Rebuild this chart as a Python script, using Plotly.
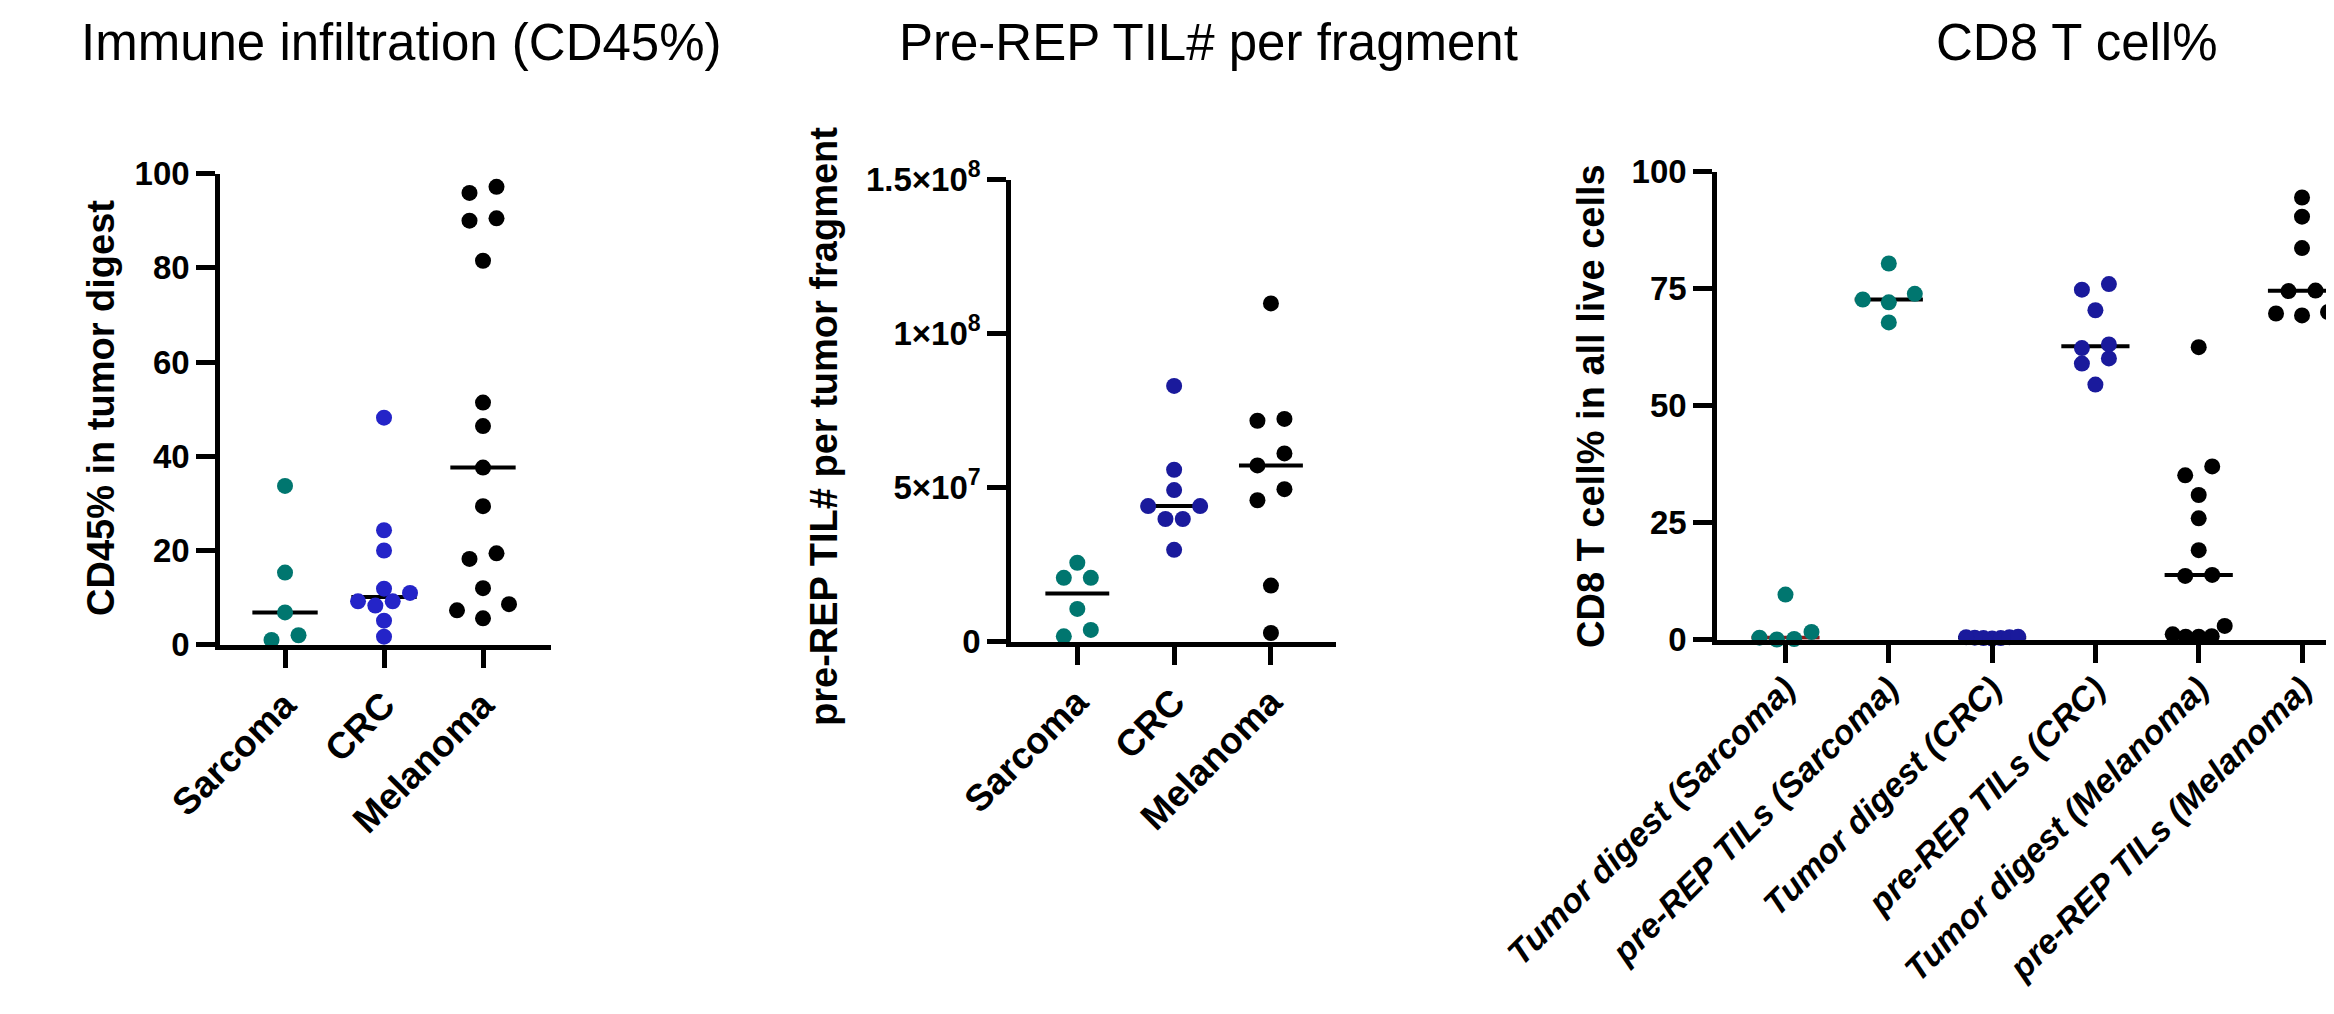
import numpy as np
import plotly.graph_objects as go

W, H = 2334, 1014
FONT = "Liberation Sans, Arial, sans-serif"

# ---------------- data ----------------
p1_categories = ["Sarcoma", "CRC", "Melanoma"]
p1_sarcoma = [33.7, 15.3, 6.85, 2.0, 1.0]
p1_crc = [48.2, 24.3, 20.0, 11.9, 11.0, 9.2, 9.2, 8.3, 5.1, 1.7]
p1_melanoma = [97.2, 95.9, 90.5, 90.0, 81.5, 51.4, 46.4, 37.6, 29.4, 19.4, 18.2, 12.0, 8.6, 7.3, 5.6]
p1_tickvals = [0, 20, 40, 60, 80, 100]

p2_categories = ["Sarcoma", "CRC", "Melanoma"]
p2_sarcoma = [2.56e7, 2.07e7, 2.07e7, 1.06e7, 0.38e7, 0.17e7]
p2_crc = [8.30e7, 5.58e7, 4.92e7, 4.40e7, 4.40e7, 3.98e7, 3.98e7, 2.98e7]
p2_melanoma = [10.98e7, 7.23e7, 7.17e7, 6.11e7, 5.72e7, 4.95e7, 4.59e7, 1.82e7, 0.28e7]
p2_tickvals = [0, 5e7, 1e8, 1.5e8]
p2_ticktext = ["0", "5×10<sup>7</sup>", "1×10<sup>8</sup>", "1.5×10<sup>8</sup>"]

p3_categories = ["Tumor digest (Sarcoma)", "pre-REP TILs (Sarcoma)", "Tumor digest (CRC)",
                 "pre-REP TILs (CRC)", "Tumor digest (Melanoma)", "pre-REP TILs (Melanoma)"]
p3_td_sarcoma = [9.6, 1.6, 0.4, 0.1, 0.0]
p3_pre_sarcoma = [80.4, 73.9, 72.7, 72.1, 67.8]
p3_td_crc = [0.6, 0.5, 0.5, 0.4, 0.3, 0.3, 0.2]
p3_pre_crc = [76.0, 74.8, 70.4, 63.1, 62.3, 60.1, 59.0, 54.5]
p3_td_mel = [62.5, 37.0, 35.1, 30.9, 25.9, 19.1, 13.8, 13.6, 2.9, 1.1, 0.7, 0.6, 0.6]
p3_pre_mel = [94.5, 90.4, 83.7, 74.6, 74.5, 70.0, 69.7, 69.3]
p3_tickvals = [0, 25, 50, 75, 100]

titles = ["Immune infiltration (CD45%)", "Pre-REP TIL# per fragment", "CD8 T cell%"]
ytitles = ["CD45% in tumor digest", "pre-REP TIL# per tumor fragment", "CD8 T cell% in all live cells"]

TEAL = "#00766F"
BLUE1 = "#2424C8"
BLUE2 = "#1A1A9C"
BLACK = "#000000"
DARKRED = "#8B1A1A"

# ---------------- layout geometry (pixels) ----------------
panels = [
    dict(x0=212, x1=543, ytop=165.6, ybot=636.7, xr=(-0.657, 2.687), yr=(0, 100)),
    dict(x0=1003, x1=1328, ytop=171.6, ybot=633.6, xr=(-0.685, 2.672), yr=(0, 1.5e8)),
    dict(x0=1709, x1=2334, ytop=163.8, ybot=631.5, xr=(-0.663, 5.387), yr=(0, 100)),
]

# (values, marker colour, median-line colour)
groups = [
    [(p1_sarcoma, TEAL, BLACK), (p1_crc, BLUE1, BLACK), (p1_melanoma, BLACK, BLACK)],
    [(p2_sarcoma, TEAL, BLACK), (p2_crc, BLUE2, BLACK), (p2_melanoma, BLACK, BLACK)],
    [(p3_td_sarcoma, TEAL, DARKRED), (p3_pre_sarcoma, TEAL, BLACK), (p3_td_crc, BLUE2, BLACK),
     (p3_pre_crc, BLUE2, BLACK), (p3_td_mel, BLACK, BLACK), (p3_pre_mel, BLACK, BLACK)],
]

MARKER = 16


def swarm(values, xpu, ypu, D=15.0, s_max=27.0, w_max=52.0):
    """GraphPad-like scatter-dot layout: points with close values share a row."""
    vals = np.sort(np.asarray(values, float))
    ypx = vals * ypu
    n = len(vals)
    off = np.zeros(n)
    i = 0
    while i < n:
        j = i
        while j + 1 < n and ypx[j + 1] - ypx[i] < D:
            j += 1
        m = j - i + 1
        if m > 1:
            s = min(s_max, w_max / (m - 1))
            slots = (np.arange(m) - (m - 1) / 2.0) * s
            order = np.argsort(np.abs(slots) + 1e-6 * slots)
            for k, si in enumerate(order):
                off[i + k] = slots[si]
        i = j + 1
    return vals, off / xpu


fig = go.Figure()

for pi, (pan, grp) in enumerate(zip(panels, groups)):
    xa = "x" if pi == 0 else f"x{pi+1}"
    ya = "y" if pi == 0 else f"y{pi+1}"
    xpu = (pan["x1"] - pan["x0"]) / (pan["xr"][1] - pan["xr"][0])
    ypu = (pan["ybot"] - pan["ytop"]) / (pan["yr"][1] - pan["yr"][0])
    for ci, (vals, col, mcol) in enumerate(grp):
        med = float(np.median(vals))
        fig.add_trace(go.Scatter(
            x=[ci - 0.33, ci + 0.33], y=[med, med], mode="lines",
            line=dict(color=mcol, width=4), xaxis=xa, yaxis=ya,
            showlegend=False, hoverinfo="skip", cliponaxis=False))
        v, o = swarm(vals, xpu, ypu)
        fig.add_trace(go.Scatter(
            x=ci + o, y=v, mode="markers",
            marker=dict(color=col, size=MARKER, line=dict(width=0)),
            xaxis=xa, yaxis=ya, showlegend=False, cliponaxis=False))

axis_common = dict(showline=True, linewidth=4.5, linecolor="black", ticks="outside",
                   ticklen=19, tickwidth=4.5, tickcolor="black", showgrid=False,
                   zeroline=False, fixedrange=True, automargin=False)

cats = [p1_categories, p2_categories, p3_categories]
ytick = [
    (p1_tickvals, [str(v) for v in p1_tickvals]),
    (p2_tickvals, p2_ticktext),
    (p3_tickvals, [str(v) for v in p3_tickvals]),
]

layout = dict(width=W, height=H,
              margin=dict(l=0, r=0, t=0, b=0, pad=0, autoexpand=False),
              paper_bgcolor="white", plot_bgcolor="white",
              font=dict(family=FONT, color="black"))

for pi, pan in enumerate(panels):
    xk = "xaxis" if pi == 0 else f"xaxis{pi+1}"
    yk = "yaxis" if pi == 0 else f"yaxis{pi+1}"
    xname = "x" if pi == 0 else f"x{pi+1}"
    yname = "y" if pi == 0 else f"y{pi+1}"
    if pi < 2:
        tf = dict(family=FONT, size=37, color="black", weight="bold")
        standoff = 0
    else:
        tf = dict(family=FONT, size=34, color="black", weight="bold", style="italic")
        standoff = -8
    layout[xk] = dict(axis_common, domain=[pan["x0"] / W, pan["x1"] / W],
                      range=list(pan["xr"]), tickmode="array",
                      tickvals=list(range(len(cats[pi]))), ticktext=cats[pi],
                      tickangle=-45, tickfont=tf, anchor=yname,
                      ticklabelstandoff=standoff)
    layout[yk] = dict(axis_common, domain=[1 - pan["ybot"] / H, 1 - pan["ytop"] / H],
                      range=list(pan["yr"]), tickmode="array",
                      tickvals=ytick[pi][0], ticktext=ytick[pi][1],
                      tickfont=dict(family=FONT, size=33, color="black", weight="bold"),
                      anchor=xname)

fig.update_layout(**layout)

# titles and y-axis titles (pixel positions converted to paper coords)
title_pos = [(393, 35), (1200, 35), (2069, 35)]
ytitle_pos = [(93, 400), (816, 419), (1583, 398)]
for t, (tx, ty) in zip(titles, title_pos):
    fig.add_annotation(text=t, x=tx / W, y=1 - ty / H, xref="paper", yref="paper",
                       showarrow=False, xanchor="center", yanchor="middle",
                       font=dict(family=FONT, size=51, color="black"))
for t, (tx, ty) in zip(ytitles, ytitle_pos):
    fig.add_annotation(text=t, x=tx / W, y=1 - ty / H, xref="paper", yref="paper",
                       showarrow=False, xanchor="center", yanchor="middle", textangle=-90,
                       font=dict(family=FONT, size=38, color="black", weight="bold"))

fig.write_html("out.html")
